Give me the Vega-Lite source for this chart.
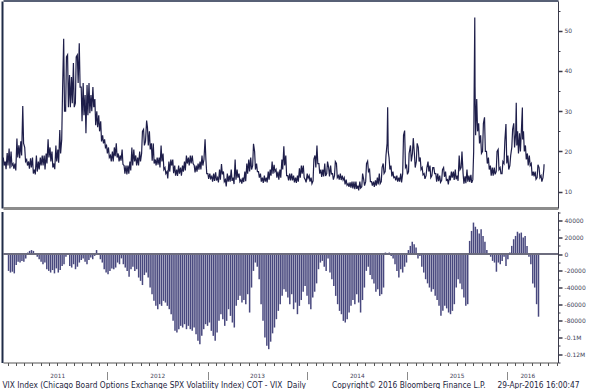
{
  "$schema": "https://vega.github.io/schema/vega-lite/v6.json",
  "background": "white",
  "padding": {"left": 0, "top": 0, "right": 0, "bottom": 0},
  "spacing": 3.5,
  "config": {
    "view": {"stroke": null},
    "font": "DejaVu Sans",
    "axis": {"grid": false, "labelColor": "#3f3f58", "tickColor": "#3a3a4a", "domainColor": "#3a3a4a"}
  },
  "datasets": {
    "vix": [
{"d":"2011-01-03","v":18.5},{"d":"2011-01-06","v":16.5},{"d":"2011-01-10","v":17.5},{"d":"2011-01-13","v":15.6},{"d":"2011-01-17","v":19.6},{"d":"2011-01-20","v":16.5},{"d":"2011-01-24","v":20.7},{"d":"2011-01-27","v":15.8},{"d":"2011-01-31","v":20.0},{"d":"2011-02-03","v":16.5},{"d":"2011-02-07","v":17.0},{"d":"2011-02-10","v":15.7},{"d":"2011-02-14","v":17.0},{"d":"2011-02-17","v":15.3},{"d":"2011-02-21","v":23.2},{"d":"2011-02-24","v":18.5},{"d":"2011-02-28","v":21.5},{"d":"2011-03-03","v":18.3},{"d":"2011-03-07","v":22.5},{"d":"2011-03-10","v":19.0},{"d":"2011-03-14","v":31.3},{"d":"2011-03-17","v":22.0},{"d":"2011-03-21","v":21.0},{"d":"2011-03-24","v":17.5},{"d":"2011-03-28","v":18.0},{"d":"2011-03-31","v":16.5},{"d":"2011-04-04","v":17.5},{"d":"2011-04-07","v":15.7},{"d":"2011-04-11","v":18.3},{"d":"2011-04-14","v":16.0},{"d":"2011-04-18","v":18.5},{"d":"2011-04-21","v":14.5},{"d":"2011-04-25","v":15.5},{"d":"2011-04-28","v":14.3},{"d":"2011-05-02","v":19.0},{"d":"2011-05-05","v":15.0},{"d":"2011-05-09","v":17.5},{"d":"2011-05-12","v":15.5},{"d":"2011-05-16","v":18.5},{"d":"2011-05-19","v":16.5},{"d":"2011-05-23","v":19.0},{"d":"2011-05-26","v":16.5},{"d":"2011-05-30","v":19.0},{"d":"2011-06-02","v":15.5},{"d":"2011-06-06","v":19.5},{"d":"2011-06-09","v":17.0},{"d":"2011-06-13","v":23.0},{"d":"2011-06-16","v":18.5},{"d":"2011-06-20","v":21.0},{"d":"2011-06-23","v":17.5},{"d":"2011-06-27","v":20.0},{"d":"2011-06-30","v":16.0},{"d":"2011-07-04","v":17.0},{"d":"2011-07-07","v":15.6},{"d":"2011-07-11","v":21.5},{"d":"2011-07-14","v":17.5},{"d":"2011-07-18","v":20.5},{"d":"2011-07-21","v":17.2},{"d":"2011-07-25","v":25.3},{"d":"2011-07-28","v":19.5},{"d":"2011-08-01","v":23.0},{"d":"2011-08-04","v":35.0},{"d":"2011-08-08","v":48.0},{"d":"2011-08-11","v":30.0},{"d":"2011-08-15","v":30.0},{"d":"2011-08-18","v":43.5},{"d":"2011-08-22","v":44.0},{"d":"2011-08-25","v":31.0},{"d":"2011-08-29","v":39.0},{"d":"2011-09-01","v":31.0},{"d":"2011-09-05","v":38.5},{"d":"2011-09-08","v":32.0},{"d":"2011-09-12","v":42.0},{"d":"2011-09-15","v":31.0},{"d":"2011-09-19","v":32.0},{"d":"2011-09-22","v":43.5},{"d":"2011-09-26","v":44.0},{"d":"2011-09-29","v":37.0},{"d":"2011-10-03","v":46.9},{"d":"2011-10-06","v":36.0},{"d":"2011-10-10","v":36.0},{"d":"2011-10-13","v":27.5},{"d":"2011-10-17","v":37.0},{"d":"2011-10-20","v":29.0},{"d":"2011-10-24","v":34.0},{"d":"2011-10-27","v":24.5},{"d":"2011-10-31","v":36.5},{"d":"2011-11-03","v":29.0},{"d":"2011-11-07","v":37.0},{"d":"2011-11-10","v":29.5},{"d":"2011-11-14","v":34.0},{"d":"2011-11-17","v":30.0},{"d":"2011-11-21","v":36.0},{"d":"2011-11-24","v":31.0},{"d":"2011-11-28","v":33.0},{"d":"2011-12-01","v":26.5},{"d":"2011-12-05","v":30.0},{"d":"2011-12-08","v":26.0},{"d":"2011-12-12","v":29.0},{"d":"2011-12-15","v":25.0},{"d":"2011-12-19","v":27.5},{"d":"2011-12-22","v":22.5},{"d":"2011-12-26","v":24.0},{"d":"2011-12-29","v":22.0},
{"d":"2012-01-02","v":23.0},{"d":"2012-01-05","v":21.0},{"d":"2012-01-09","v":21.5},{"d":"2012-01-12","v":19.5},{"d":"2012-01-16","v":21.0},{"d":"2012-01-19","v":18.5},{"d":"2012-01-23","v":19.0},{"d":"2012-01-26","v":17.5},{"d":"2012-01-30","v":20.0},{"d":"2012-02-02","v":17.5},{"d":"2012-02-06","v":21.0},{"d":"2012-02-09","v":18.8},{"d":"2012-02-13","v":22.0},{"d":"2012-02-16","v":18.5},{"d":"2012-02-20","v":19.5},{"d":"2012-02-23","v":17.5},{"d":"2012-02-27","v":19.0},{"d":"2012-03-01","v":17.7},{"d":"2012-03-05","v":20.5},{"d":"2012-03-08","v":16.8},{"d":"2012-03-12","v":16.5},{"d":"2012-03-15","v":14.5},{"d":"2012-03-19","v":16.5},{"d":"2012-03-22","v":14.3},{"d":"2012-03-26","v":16.5},{"d":"2012-03-29","v":14.5},{"d":"2012-04-02","v":17.5},{"d":"2012-04-05","v":15.3},{"d":"2012-04-09","v":21.0},{"d":"2012-04-12","v":16.5},{"d":"2012-04-16","v":20.5},{"d":"2012-04-19","v":17.5},{"d":"2012-04-23","v":19.0},{"d":"2012-04-26","v":16.5},{"d":"2012-04-30","v":18.5},{"d":"2012-05-03","v":16.5},{"d":"2012-05-07","v":20.0},{"d":"2012-05-10","v":17.5},{"d":"2012-05-14","v":19.5},{"d":"2012-05-17","v":25.0},{"d":"2012-05-21","v":25.5},{"d":"2012-05-24","v":21.5},{"d":"2012-05-28","v":22.5},{"d":"2012-06-01","v":27.7},{"d":"2012-06-04","v":26.0},{"d":"2012-06-07","v":21.5},{"d":"2012-06-11","v":25.0},{"d":"2012-06-14","v":20.5},{"d":"2012-06-18","v":22.0},{"d":"2012-06-21","v":17.7},{"d":"2012-06-25","v":22.0},{"d":"2012-06-28","v":17.0},{"d":"2012-07-02","v":18.0},{"d":"2012-07-05","v":16.5},{"d":"2012-07-09","v":18.5},{"d":"2012-07-12","v":16.7},{"d":"2012-07-16","v":18.5},{"d":"2012-07-19","v":16.0},{"d":"2012-07-23","v":21.5},{"d":"2012-07-26","v":17.5},{"d":"2012-07-30","v":19.5},{"d":"2012-08-02","v":15.5},{"d":"2012-08-06","v":16.0},{"d":"2012-08-09","v":14.5},{"d":"2012-08-13","v":15.0},{"d":"2012-08-16","v":13.3},{"d":"2012-08-20","v":17.5},{"d":"2012-08-23","v":15.0},{"d":"2012-08-27","v":18.0},{"d":"2012-08-30","v":16.5},{"d":"2012-09-03","v":18.0},{"d":"2012-09-06","v":14.6},{"d":"2012-09-10","v":16.5},{"d":"2012-09-13","v":14.0},{"d":"2012-09-17","v":15.5},{"d":"2012-09-20","v":13.9},{"d":"2012-09-24","v":16.5},{"d":"2012-09-27","v":14.5},{"d":"2012-10-01","v":16.0},{"d":"2012-10-04","v":14.0},{"d":"2012-10-08","v":16.5},{"d":"2012-10-11","v":15.0},{"d":"2012-10-15","v":17.5},{"d":"2012-10-18","v":15.3},{"d":"2012-10-22","v":19.0},{"d":"2012-10-25","v":17.0},{"d":"2012-10-29","v":18.5},{"d":"2012-11-01","v":16.5},{"d":"2012-11-05","v":19.0},{"d":"2012-11-08","v":17.0},{"d":"2012-11-12","v":19.0},{"d":"2012-11-15","v":17.0},{"d":"2012-11-19","v":16.5},{"d":"2012-11-22","v":14.8},{"d":"2012-11-26","v":16.5},{"d":"2012-11-29","v":15.0},{"d":"2012-12-03","v":17.0},{"d":"2012-12-06","v":15.5},{"d":"2012-12-10","v":17.5},{"d":"2012-12-13","v":15.5},{"d":"2012-12-17","v":19.0},{"d":"2012-12-20","v":16.5},{"d":"2012-12-24","v":18.0},{"d":"2012-12-28","v":23.0},{"d":"2012-12-31","v":18.0},
{"d":"2013-01-03","v":14.5},{"d":"2013-01-07","v":14.5},{"d":"2013-01-10","v":13.2},{"d":"2013-01-14","v":14.5},{"d":"2013-01-17","v":13.3},{"d":"2013-01-21","v":13.8},{"d":"2013-01-24","v":12.5},{"d":"2013-01-28","v":14.5},{"d":"2013-01-31","v":12.7},{"d":"2013-02-04","v":14.8},{"d":"2013-02-07","v":12.8},{"d":"2013-02-11","v":13.5},{"d":"2013-02-14","v":12.3},{"d":"2013-02-18","v":15.5},{"d":"2013-02-21","v":13.0},{"d":"2013-02-25","v":16.9},{"d":"2013-02-28","v":14.3},{"d":"2013-03-04","v":15.0},{"d":"2013-03-07","v":12.5},{"d":"2013-03-11","v":13.0},{"d":"2013-03-14","v":11.3},{"d":"2013-03-18","v":14.5},{"d":"2013-03-21","v":12.5},{"d":"2013-03-25","v":14.0},{"d":"2013-03-28","v":12.5},{"d":"2013-04-01","v":15.5},{"d":"2013-04-04","v":12.7},{"d":"2013-04-08","v":13.5},{"d":"2013-04-11","v":11.9},{"d":"2013-04-15","v":18.0},{"d":"2013-04-18","v":13.0},{"d":"2013-04-22","v":15.5},{"d":"2013-04-25","v":13.5},{"d":"2013-04-29","v":14.5},{"d":"2013-05-02","v":12.5},{"d":"2013-05-06","v":13.0},{"d":"2013-05-09","v":12.0},{"d":"2013-05-13","v":13.5},{"d":"2013-05-16","v":12.4},{"d":"2013-05-20","v":15.0},{"d":"2013-05-23","v":12.6},{"d":"2013-05-27","v":17.0},{"d":"2013-05-30","v":14.5},{"d":"2013-06-03","v":18.0},{"d":"2013-06-06","v":15.0},{"d":"2013-06-10","v":18.5},{"d":"2013-06-13","v":15.5},{"d":"2013-06-17","v":16.5},{"d":"2013-06-20","v":21.9},{"d":"2013-06-24","v":20.0},{"d":"2013-06-27","v":15.5},{"d":"2013-07-01","v":17.0},{"d":"2013-07-04","v":15.0},{"d":"2013-07-08","v":15.0},{"d":"2013-07-11","v":13.5},{"d":"2013-07-15","v":14.5},{"d":"2013-07-18","v":12.5},{"d":"2013-07-22","v":13.5},{"d":"2013-07-25","v":12.2},{"d":"2013-07-29","v":14.0},{"d":"2013-08-01","v":12.5},{"d":"2013-08-05","v":13.5},{"d":"2013-08-08","v":12.3},{"d":"2013-08-12","v":15.0},{"d":"2013-08-15","v":13.0},{"d":"2013-08-19","v":15.5},{"d":"2013-08-22","v":14.0},{"d":"2013-08-26","v":17.5},{"d":"2013-08-29","v":14.5},{"d":"2013-09-02","v":16.7},{"d":"2013-09-05","v":15.0},{"d":"2013-09-09","v":15.5},{"d":"2013-09-12","v":13.5},{"d":"2013-09-16","v":15.0},{"d":"2013-09-19","v":13.0},{"d":"2013-09-23","v":15.5},{"d":"2013-09-26","v":13.5},{"d":"2013-09-30","v":18.0},{"d":"2013-10-03","v":15.5},{"d":"2013-10-07","v":21.3},{"d":"2013-10-10","v":16.5},{"d":"2013-10-14","v":19.0},{"d":"2013-10-17","v":14.0},{"d":"2013-10-21","v":14.0},{"d":"2013-10-24","v":12.8},{"d":"2013-10-28","v":14.5},{"d":"2013-10-31","v":12.8},{"d":"2013-11-04","v":14.5},{"d":"2013-11-07","v":12.8},{"d":"2013-11-11","v":14.0},{"d":"2013-11-14","v":12.3},{"d":"2013-11-18","v":13.5},{"d":"2013-11-21","v":12.2},{"d":"2013-11-25","v":14.0},{"d":"2013-11-28","v":12.5},{"d":"2013-12-02","v":15.8},{"d":"2013-12-05","v":13.5},{"d":"2013-12-09","v":16.5},{"d":"2013-12-12","v":14.5},{"d":"2013-12-16","v":16.5},{"d":"2013-12-19","v":13.5},{"d":"2013-12-23","v":13.0},{"d":"2013-12-26","v":12.3},{"d":"2013-12-30","v":14.5},
{"d":"2014-01-02","v":13.3},{"d":"2014-01-06","v":14.0},{"d":"2014-01-09","v":12.5},{"d":"2014-01-13","v":13.5},{"d":"2014-01-16","v":12.0},{"d":"2014-01-20","v":12.7},{"d":"2014-01-23","v":18.1},{"d":"2014-01-27","v":19.0},{"d":"2014-01-30","v":16.0},{"d":"2014-02-03","v":21.5},{"d":"2014-02-06","v":17.0},{"d":"2014-02-10","v":17.0},{"d":"2014-02-13","v":14.5},{"d":"2014-02-17","v":15.5},{"d":"2014-02-20","v":13.7},{"d":"2014-02-24","v":15.5},{"d":"2014-02-27","v":13.8},{"d":"2014-03-03","v":17.0},{"d":"2014-03-06","v":13.9},{"d":"2014-03-10","v":14.5},{"d":"2014-03-13","v":17.5},{"d":"2014-03-17","v":16.0},{"d":"2014-03-20","v":13.8},{"d":"2014-03-24","v":16.5},{"d":"2014-03-27","v":14.4},{"d":"2014-03-31","v":14.5},{"d":"2014-04-03","v":13.0},{"d":"2014-04-07","v":14.0},{"d":"2014-04-10","v":17.5},{"d":"2014-04-14","v":17.0},{"d":"2014-04-17","v":13.5},{"d":"2014-04-21","v":14.0},{"d":"2014-04-24","v":13.0},{"d":"2014-04-28","v":14.5},{"d":"2014-05-01","v":12.9},{"d":"2014-05-05","v":14.0},{"d":"2014-05-08","v":12.9},{"d":"2014-05-12","v":13.5},{"d":"2014-05-15","v":11.8},{"d":"2014-05-19","v":13.0},{"d":"2014-05-22","v":11.6},{"d":"2014-05-26","v":12.0},{"d":"2014-05-29","v":11.2},{"d":"2014-06-02","v":12.3},{"d":"2014-06-05","v":11.0},{"d":"2014-06-09","v":12.5},{"d":"2014-06-12","v":10.8},{"d":"2014-06-16","v":12.5},{"d":"2014-06-19","v":10.6},{"d":"2014-06-23","v":12.5},{"d":"2014-06-26","v":10.7},{"d":"2014-06-30","v":11.5},{"d":"2014-07-03","v":10.3},{"d":"2014-07-07","v":12.5},{"d":"2014-07-10","v":10.9},{"d":"2014-07-14","v":11.2},{"d":"2014-07-17","v":14.5},{"d":"2014-07-21","v":13.0},{"d":"2014-07-24","v":11.5},{"d":"2014-07-28","v":12.5},{"d":"2014-07-31","v":17.0},{"d":"2014-08-04","v":17.6},{"d":"2014-08-07","v":15.0},{"d":"2014-08-11","v":15.5},{"d":"2014-08-14","v":12.5},{"d":"2014-08-18","v":12.5},{"d":"2014-08-21","v":11.5},{"d":"2014-08-25","v":12.5},{"d":"2014-08-28","v":11.2},{"d":"2014-09-01","v":12.8},{"d":"2014-09-04","v":11.5},{"d":"2014-09-08","v":13.5},{"d":"2014-09-11","v":11.8},{"d":"2014-09-15","v":14.5},{"d":"2014-09-18","v":12.0},{"d":"2014-09-22","v":12.5},{"d":"2014-09-25","v":16.0},{"d":"2014-09-29","v":17.0},{"d":"2014-10-02","v":14.5},{"d":"2014-10-06","v":15.0},{"d":"2014-10-09","v":19.0},{"d":"2014-10-13","v":22.0},{"d":"2014-10-15","v":31.0},{"d":"2014-10-17","v":20.0},{"d":"2014-10-20","v":18.5},{"d":"2014-10-23","v":15.5},{"d":"2014-10-27","v":16.5},{"d":"2014-10-30","v":13.8},{"d":"2014-11-03","v":15.0},{"d":"2014-11-06","v":13.5},{"d":"2014-11-10","v":13.7},{"d":"2014-11-13","v":12.8},{"d":"2014-11-17","v":14.0},{"d":"2014-11-20","v":12.5},{"d":"2014-11-24","v":13.5},{"d":"2014-11-27","v":12.5},{"d":"2014-12-01","v":14.5},{"d":"2014-12-04","v":12.3},{"d":"2014-12-08","v":14.5},{"d":"2014-12-11","v":24.0},{"d":"2014-12-15","v":25.2},{"d":"2014-12-18","v":16.0},{"d":"2014-12-22","v":16.5},{"d":"2014-12-25","v":14.3},{"d":"2014-12-29","v":15.0},{"d":"2014-12-31","v":19.5},
{"d":"2015-01-05","v":21.5},{"d":"2015-01-08","v":17.5},{"d":"2015-01-12","v":19.5},{"d":"2015-01-15","v":23.3},{"d":"2015-01-19","v":19.5},{"d":"2015-01-22","v":16.0},{"d":"2015-01-26","v":17.5},{"d":"2015-01-29","v":22.0},{"d":"2015-02-02","v":21.0},{"d":"2015-02-05","v":17.5},{"d":"2015-02-09","v":18.5},{"d":"2015-02-12","v":15.5},{"d":"2015-02-16","v":16.0},{"d":"2015-02-19","v":14.2},{"d":"2015-02-23","v":14.5},{"d":"2015-02-26","v":13.2},{"d":"2015-03-02","v":14.0},{"d":"2015-03-05","v":16.0},{"d":"2015-03-09","v":17.5},{"d":"2015-03-12","v":15.0},{"d":"2015-03-16","v":16.5},{"d":"2015-03-19","v":13.5},{"d":"2015-03-23","v":14.0},{"d":"2015-03-26","v":16.0},{"d":"2015-03-30","v":16.0},{"d":"2015-04-02","v":14.5},{"d":"2015-04-06","v":14.5},{"d":"2015-04-09","v":12.5},{"d":"2015-04-13","v":14.5},{"d":"2015-04-16","v":12.6},{"d":"2015-04-20","v":14.0},{"d":"2015-04-23","v":12.3},{"d":"2015-04-27","v":12.8},{"d":"2015-04-30","v":15.5},{"d":"2015-05-04","v":16.0},{"d":"2015-05-07","v":13.7},{"d":"2015-05-11","v":15.0},{"d":"2015-05-14","v":12.8},{"d":"2015-05-18","v":13.0},{"d":"2015-05-21","v":11.8},{"d":"2015-05-25","v":14.0},{"d":"2015-05-28","v":12.8},{"d":"2015-06-01","v":15.0},{"d":"2015-06-04","v":13.5},{"d":"2015-06-08","v":15.0},{"d":"2015-06-11","v":12.9},{"d":"2015-06-15","v":15.5},{"d":"2015-06-18","v":13.1},{"d":"2015-06-22","v":14.0},{"d":"2015-06-25","v":12.7},{"d":"2015-06-29","v":19.0},{"d":"2015-07-02","v":15.5},{"d":"2015-07-06","v":16.0},{"d":"2015-07-09","v":20.0},{"d":"2015-07-13","v":14.5},{"d":"2015-07-16","v":12.0},{"d":"2015-07-20","v":13.8},{"d":"2015-07-23","v":12.1},{"d":"2015-07-27","v":15.5},{"d":"2015-07-30","v":12.5},{"d":"2015-08-03","v":14.0},{"d":"2015-08-06","v":12.4},{"d":"2015-08-10","v":14.2},{"d":"2015-08-13","v":12.2},{"d":"2015-08-17","v":13.0},{"d":"2015-08-20","v":19.9},{"d":"2015-08-21","v":28.4},{"d":"2015-08-24","v":53.3},{"d":"2015-08-25","v":36.0},{"d":"2015-08-27","v":24.0},{"d":"2015-08-31","v":33.0},{"d":"2015-09-03","v":25.0},{"d":"2015-09-07","v":27.0},{"d":"2015-09-10","v":22.0},{"d":"2015-09-14","v":24.0},{"d":"2015-09-17","v":19.5},{"d":"2015-09-21","v":20.0},{"d":"2015-09-24","v":27.0},{"d":"2015-09-28","v":28.5},{"d":"2015-10-01","v":20.0},{"d":"2015-10-05","v":20.0},{"d":"2015-10-08","v":17.0},{"d":"2015-10-12","v":18.5},{"d":"2015-10-15","v":15.5},{"d":"2015-10-19","v":16.5},{"d":"2015-10-22","v":14.0},{"d":"2015-10-26","v":16.0},{"d":"2015-10-29","v":14.0},{"d":"2015-11-02","v":16.0},{"d":"2015-11-05","v":14.3},{"d":"2015-11-09","v":15.0},{"d":"2015-11-12","v":20.0},{"d":"2015-11-16","v":20.5},{"d":"2015-11-19","v":15.5},{"d":"2015-11-23","v":16.0},{"d":"2015-11-26","v":14.5},{"d":"2015-11-30","v":14.5},{"d":"2015-12-03","v":17.5},{"d":"2015-12-07","v":17.0},{"d":"2015-12-10","v":22.5},{"d":"2015-12-14","v":26.8},{"d":"2015-12-17","v":17.0},{"d":"2015-12-21","v":19.0},{"d":"2015-12-24","v":15.5},{"d":"2015-12-28","v":16.5},{"d":"2015-12-31","v":19.0},
{"d":"2016-01-04","v":21.0},{"d":"2016-01-07","v":25.5},{"d":"2016-01-11","v":27.0},{"d":"2016-01-14","v":21.0},{"d":"2016-01-18","v":24.5},{"d":"2016-01-20","v":32.1},{"d":"2016-01-22","v":21.5},{"d":"2016-01-25","v":25.0},{"d":"2016-01-28","v":19.5},{"d":"2016-02-01","v":24.5},{"d":"2016-02-04","v":20.0},{"d":"2016-02-08","v":26.0},{"d":"2016-02-11","v":30.9},{"d":"2016-02-12","v":23.0},{"d":"2016-02-15","v":25.0},{"d":"2016-02-18","v":20.0},{"d":"2016-02-22","v":21.5},{"d":"2016-02-25","v":18.0},{"d":"2016-02-29","v":19.5},{"d":"2016-03-03","v":16.5},{"d":"2016-03-07","v":19.0},{"d":"2016-03-10","v":16.5},{"d":"2016-03-14","v":17.0},{"d":"2016-03-17","v":14.0},{"d":"2016-03-21","v":15.0},{"d":"2016-03-24","v":13.8},{"d":"2016-03-28","v":15.0},{"d":"2016-03-31","v":13.1},{"d":"2016-04-04","v":13.5},{"d":"2016-04-07","v":16.7},{"d":"2016-04-11","v":16.0},{"d":"2016-04-14","v":13.5},{"d":"2016-04-18","v":14.0},{"d":"2016-04-21","v":12.5},{"d":"2016-04-25","v":13.5},{"d":"2016-04-28","v":15.5},{"d":"2016-04-29","v":16.8}
    ],
    "cot": [
{"d":"2011-01-04","v":-20000},{"d":"2011-01-11","v":-22000},{"d":"2011-01-18","v":-21000},{"d":"2011-01-25","v":-23000},{"d":"2011-02-01","v":-13000},{"d":"2011-02-08","v":-9000},{"d":"2011-02-15","v":-10000},{"d":"2011-02-22","v":-8000},{"d":"2011-03-01","v":-9000},{"d":"2011-03-08","v":-5000},{"d":"2011-03-15","v":2000},{"d":"2011-03-22","v":4000},{"d":"2011-03-29","v":5000},{"d":"2011-04-05","v":4000},{"d":"2011-04-12","v":1000},{"d":"2011-04-19","v":-3000},{"d":"2011-04-26","v":-6000},{"d":"2011-05-03","v":-9000},{"d":"2011-05-10","v":-12000},{"d":"2011-05-17","v":-10000},{"d":"2011-05-24","v":-18000},{"d":"2011-05-31","v":-20000},{"d":"2011-06-07","v":-22000},{"d":"2011-06-14","v":-19000},{"d":"2011-06-21","v":-23000},{"d":"2011-06-28","v":-17000},{"d":"2011-07-05","v":-22000},{"d":"2011-07-12","v":-19000},{"d":"2011-07-19","v":-14000},{"d":"2011-07-26","v":-12000},{"d":"2011-08-02","v":-3000},{"d":"2011-08-09","v":-1000},{"d":"2011-08-16","v":-14000},{"d":"2011-08-23","v":-16000},{"d":"2011-08-30","v":-12000},{"d":"2011-09-06","v":-18000},{"d":"2011-09-13","v":-15000},{"d":"2011-09-20","v":-10000},{"d":"2011-09-27","v":-7000},{"d":"2011-10-04","v":-5000},{"d":"2011-10-11","v":-9000},{"d":"2011-10-18","v":-12000},{"d":"2011-10-25","v":-7000},{"d":"2011-11-01","v":-4000},{"d":"2011-11-08","v":-6000},{"d":"2011-11-15","v":-2000},{"d":"2011-11-22","v":5000},{"d":"2011-11-29","v":1000},{"d":"2011-12-06","v":-6000},{"d":"2011-12-13","v":-10000},{"d":"2011-12-20","v":-18000},{"d":"2011-12-27","v":-22000},
{"d":"2012-01-03","v":-24000},{"d":"2012-01-10","v":-20000},{"d":"2012-01-17","v":-17000},{"d":"2012-01-24","v":-18000},{"d":"2012-01-31","v":-16000},{"d":"2012-02-07","v":-10000},{"d":"2012-02-14","v":-12000},{"d":"2012-02-21","v":-5000},{"d":"2012-02-28","v":-12000},{"d":"2012-03-06","v":-16000},{"d":"2012-03-13","v":-20000},{"d":"2012-03-20","v":-27000},{"d":"2012-03-27","v":-18000},{"d":"2012-04-03","v":-15000},{"d":"2012-04-10","v":-20000},{"d":"2012-04-17","v":-18000},{"d":"2012-04-24","v":-28000},{"d":"2012-05-01","v":-32000},{"d":"2012-05-08","v":-37000},{"d":"2012-05-15","v":-25000},{"d":"2012-05-22","v":-22000},{"d":"2012-05-29","v":-28000},{"d":"2012-06-05","v":-40000},{"d":"2012-06-12","v":-48000},{"d":"2012-06-19","v":-56000},{"d":"2012-06-26","v":-62000},{"d":"2012-07-03","v":-66000},{"d":"2012-07-10","v":-60000},{"d":"2012-07-17","v":-62000},{"d":"2012-07-24","v":-56000},{"d":"2012-07-31","v":-58000},{"d":"2012-08-07","v":-62000},{"d":"2012-08-14","v":-66000},{"d":"2012-08-21","v":-72000},{"d":"2012-08-28","v":-80000},{"d":"2012-09-04","v":-92000},{"d":"2012-09-11","v":-94000},{"d":"2012-09-18","v":-90000},{"d":"2012-09-25","v":-86000},{"d":"2012-10-02","v":-88000},{"d":"2012-10-09","v":-84000},{"d":"2012-10-16","v":-90000},{"d":"2012-10-23","v":-86000},{"d":"2012-10-30","v":-90000},{"d":"2012-11-06","v":-92000},{"d":"2012-11-13","v":-88000},{"d":"2012-11-20","v":-96000},{"d":"2012-11-27","v":-104000},{"d":"2012-12-04","v":-108000},{"d":"2012-12-11","v":-98000},{"d":"2012-12-18","v":-90000},{"d":"2012-12-25","v":-84000},
{"d":"2013-01-01","v":-86000},{"d":"2013-01-08","v":-82000},{"d":"2013-01-15","v":-92000},{"d":"2013-01-22","v":-98000},{"d":"2013-01-29","v":-104000},{"d":"2013-02-05","v":-94000},{"d":"2013-02-12","v":-80000},{"d":"2013-02-19","v":-72000},{"d":"2013-02-26","v":-78000},{"d":"2013-03-05","v":-86000},{"d":"2013-03-12","v":-80000},{"d":"2013-03-19","v":-66000},{"d":"2013-03-26","v":-74000},{"d":"2013-04-02","v":-82000},{"d":"2013-04-09","v":-88000},{"d":"2013-04-16","v":-62000},{"d":"2013-04-23","v":-55000},{"d":"2013-04-30","v":-50000},{"d":"2013-05-07","v":-58000},{"d":"2013-05-14","v":-55000},{"d":"2013-05-21","v":-60000},{"d":"2013-05-28","v":-48000},{"d":"2013-06-04","v":-70000},{"d":"2013-06-11","v":-40000},{"d":"2013-06-18","v":-20000},{"d":"2013-06-25","v":-10000},{"d":"2013-07-02","v":-15000},{"d":"2013-07-09","v":-30000},{"d":"2013-07-16","v":-60000},{"d":"2013-07-23","v":-80000},{"d":"2013-07-30","v":-100000},{"d":"2013-08-06","v":-110000},{"d":"2013-08-13","v":-114000},{"d":"2013-08-20","v":-105000},{"d":"2013-08-27","v":-95000},{"d":"2013-09-03","v":-88000},{"d":"2013-09-10","v":-78000},{"d":"2013-09-17","v":-68000},{"d":"2013-09-24","v":-60000},{"d":"2013-10-01","v":-50000},{"d":"2013-10-08","v":-42000},{"d":"2013-10-15","v":-45000},{"d":"2013-10-22","v":-52000},{"d":"2013-10-29","v":-60000},{"d":"2013-11-05","v":-48000},{"d":"2013-11-12","v":-66000},{"d":"2013-11-19","v":-58000},{"d":"2013-11-26","v":-72000},{"d":"2013-12-03","v":-62000},{"d":"2013-12-10","v":-55000},{"d":"2013-12-17","v":-45000},{"d":"2013-12-24","v":-38000},{"d":"2013-12-31","v":-50000},
{"d":"2014-01-07","v":-60000},{"d":"2014-01-14","v":-66000},{"d":"2014-01-21","v":-52000},{"d":"2014-01-28","v":-45000},{"d":"2014-02-04","v":-35000},{"d":"2014-02-11","v":-18000},{"d":"2014-02-18","v":-10000},{"d":"2014-02-25","v":-8000},{"d":"2014-03-04","v":-15000},{"d":"2014-03-11","v":-20000},{"d":"2014-03-18","v":-5000},{"d":"2014-03-25","v":-22000},{"d":"2014-04-01","v":-30000},{"d":"2014-04-08","v":-38000},{"d":"2014-04-15","v":-50000},{"d":"2014-04-22","v":-60000},{"d":"2014-04-29","v":-68000},{"d":"2014-05-06","v":-72000},{"d":"2014-05-13","v":-80000},{"d":"2014-05-20","v":-82000},{"d":"2014-05-27","v":-78000},{"d":"2014-06-03","v":-70000},{"d":"2014-06-10","v":-62000},{"d":"2014-06-17","v":-55000},{"d":"2014-06-24","v":-60000},{"d":"2014-07-01","v":-48000},{"d":"2014-07-08","v":-58000},{"d":"2014-07-15","v":-70000},{"d":"2014-07-22","v":-55000},{"d":"2014-07-29","v":-40000},{"d":"2014-08-05","v":-20000},{"d":"2014-08-12","v":-15000},{"d":"2014-08-19","v":-25000},{"d":"2014-08-26","v":-30000},{"d":"2014-09-02","v":-35000},{"d":"2014-09-09","v":-45000},{"d":"2014-09-16","v":-42000},{"d":"2014-09-23","v":-50000},{"d":"2014-09-30","v":-48000},{"d":"2014-10-07","v":-40000},{"d":"2014-10-14","v":2000},{"d":"2014-10-21","v":1500},{"d":"2014-10-28","v":2000},{"d":"2014-11-04","v":-2000},{"d":"2014-11-11","v":-5000},{"d":"2014-11-18","v":-12000},{"d":"2014-11-25","v":-20000},{"d":"2014-12-02","v":-28000},{"d":"2014-12-09","v":-18000},{"d":"2014-12-16","v":-22000},{"d":"2014-12-23","v":-15000},{"d":"2014-12-30","v":-10000},
{"d":"2015-01-06","v":5000},{"d":"2015-01-13","v":10000},{"d":"2015-01-20","v":15000},{"d":"2015-01-27","v":12000},{"d":"2015-02-03","v":8000},{"d":"2015-02-10","v":-5000},{"d":"2015-02-17","v":-2000},{"d":"2015-02-24","v":-15000},{"d":"2015-03-03","v":-22000},{"d":"2015-03-10","v":-30000},{"d":"2015-03-17","v":-35000},{"d":"2015-03-24","v":-40000},{"d":"2015-03-31","v":-45000},{"d":"2015-04-07","v":-42000},{"d":"2015-04-14","v":-50000},{"d":"2015-04-21","v":-55000},{"d":"2015-04-28","v":-62000},{"d":"2015-05-05","v":-74000},{"d":"2015-05-12","v":-68000},{"d":"2015-05-19","v":-62000},{"d":"2015-05-26","v":-65000},{"d":"2015-06-02","v":-70000},{"d":"2015-06-09","v":-72000},{"d":"2015-06-16","v":-68000},{"d":"2015-06-23","v":-60000},{"d":"2015-06-30","v":-40000},{"d":"2015-07-07","v":-30000},{"d":"2015-07-14","v":-35000},{"d":"2015-07-21","v":-42000},{"d":"2015-07-28","v":-52000},{"d":"2015-08-04","v":-62000},{"d":"2015-08-11","v":-60000},{"d":"2015-08-18","v":16000},{"d":"2015-08-25","v":28000},{"d":"2015-09-01","v":38000},{"d":"2015-09-08","v":33000},{"d":"2015-09-15","v":30000},{"d":"2015-09-22","v":25000},{"d":"2015-09-29","v":30000},{"d":"2015-10-06","v":22000},{"d":"2015-10-13","v":15000},{"d":"2015-10-20","v":5000},{"d":"2015-10-27","v":-1000},{"d":"2015-11-03","v":-3000},{"d":"2015-11-10","v":-8000},{"d":"2015-11-17","v":-10000},{"d":"2015-11-24","v":-21000},{"d":"2015-12-01","v":-10000},{"d":"2015-12-08","v":-12000},{"d":"2015-12-15","v":-8000},{"d":"2015-12-22","v":-3000},{"d":"2015-12-29","v":-14000},
{"d":"2016-01-05","v":-6000},{"d":"2016-01-12","v":2000},{"d":"2016-01-19","v":10000},{"d":"2016-01-26","v":18000},{"d":"2016-02-02","v":22000},{"d":"2016-02-09","v":27000},{"d":"2016-02-16","v":25000},{"d":"2016-02-23","v":26000},{"d":"2016-03-01","v":20000},{"d":"2016-03-08","v":22000},{"d":"2016-03-15","v":10000},{"d":"2016-03-22","v":-3000},{"d":"2016-03-29","v":-12000},{"d":"2016-04-05","v":-35000},{"d":"2016-04-12","v":-40000},{"d":"2016-04-19","v":-60000},{"d":"2016-04-26","v":-75000}
    ]
  },
  "vconcat": [
    {
      "width": 555,
      "height": 207,
      "data": {"name": "vix"},
      "layer": [
        {
          "mark": {"type": "line", "color": "#1e1e4a", "strokeWidth": 1.2},
          "encoding": {
            "x": {"field": "d", "type": "temporal",
                  "scale": {"domain": [{"year": 2011, "month": 1, "date": 2}, {"year": 2016, "month": 6, "date": 18}]},
                  "axis": {"orient": "bottom", "title": null, "labels": false, "ticks": false, "domainColor": "#8c8c8c", "domainWidth": 3}},
            "y": {"field": "v", "type": "quantitative",
                  "scale": {"domain": [5.95, 57.38], "nice": false, "zero": false},
                  "axis": {"orient": "right", "title": null, "values": [10, 20, 30, 40, 50], "tickSize": 4, "tickWidth": 1.5, "labelFontSize": 6, "labelPadding": 2}}
          }
        },
        {
          "mark": {"type": "point", "opacity": 0, "size": 0},
          "encoding": {
            "x": {"field": "d", "type": "temporal",
                  "scale": {"domain": [{"year": 2011, "month": 1, "date": 2}, {"year": 2016, "month": 6, "date": 18}]},
                  "axis": {"orient": "top", "title": null, "labels": false, "ticks": false, "domainColor": "#1f2b47", "domainWidth": 1.5, "offset": 0.5}},
            "y": {"field": "v", "type": "quantitative",
                  "scale": {"domain": [5.95, 57.38], "nice": false, "zero": false},
                  "axis": {"orient": "right", "title": null, "values": [15, 25, 35, 45, 55], "tickSize": 2, "labels": false, "domain": false}}
          }
        },
        {
          "mark": {"type": "point", "opacity": 0, "size": 0},
          "encoding": {
            "x": {"field": "d", "type": "temporal", "axis": null,
                  "scale": {"domain": [{"year": 2011, "month": 1, "date": 2}, {"year": 2016, "month": 6, "date": 18}]}},
            "y": {"field": "v", "type": "quantitative",
                  "scale": {"domain": [5.95, 57.38], "nice": false, "zero": false},
                  "axis": {"orient": "left", "title": null, "labels": false, "ticks": false, "domainColor": "#1f2b47", "domainWidth": 2, "offset": 1}}
          }
        }
      ],
      "resolve": {"axis": {"x": "independent", "y": "independent"}}
    },
    {
      "width": 555,
      "height": 151,
      "data": {"name": "cot"},
      "layer": [
        {
          "mark": {"type": "bar", "size": 1.5, "color": "#48487e"},
          "encoding": {
            "x": {"field": "d", "type": "temporal",
                  "scale": {"domain": [{"year": 2011, "month": 1, "date": 2}, {"year": 2016, "month": 6, "date": 18}]},
                  "axis": {
                    "orient": "bottom",
                    "title": "VIX Index (Chicago Board Options Exchange SPX Volatility Index) COT - VIX\u00a0\u00a0Daily\u00a0\u00a0\u00a0\u00a0\u00a0\u00a0\u00a0\u00a0\u00a0\u00a0\u00a0Copyright© 2016 Bloomberg Finance L.P.\u00a0\u00a0\u00a0\u00a0\u00a029-Apr-2016 16:00:47",
                    "titleAnchor": "start", "titleAlign": "left", "titleX": -1, "titleFontSize": 8.3, "titleFontWeight": "normal",
                    "titleFont": "DejaVu Sans Condensed, DejaVu Sans", "titleColor": "#1e1e40", "titlePadding": 14.5, "titleLimit": 2000,
                    "tickCount": {"interval": "month", "step": 1}, "tickSize": 3, "tickColor": "#555", "labels": false,
                    "domainColor": "#555"
                  }},
            "y": {"field": "v", "type": "quantitative",
                  "scale": {"domain": [-130000, 51300], "nice": false, "zero": false},
                  "axis": {"orient": "right", "title": null, "values": [40000, 20000, 0, -20000, -40000, -60000, -80000, -100000, -120000],
                           "labelExpr": "datum.value == -100000 ? '-0.1M' : (datum.value == -120000 ? '-0.12M' : (datum.value < 0 ? '-' + abs(datum.value) : '' + datum.value))",
                           "tickSize": 4, "tickWidth": 1.5, "labelFontSize": 6, "labelPadding": 2}}
          }
        },
        {
          "mark": {"type": "rule", "color": "#6e6e7e", "strokeWidth": 1},
          "encoding": {"y": {"datum": 0, "type": "quantitative", "axis": null}}
        },
        {
          "mark": {"type": "point", "opacity": 0, "size": 0},
          "encoding": {
            "x": {"field": "d", "type": "temporal",
                  "scale": {"domain": [{"year": 2011, "month": 1, "date": 2}, {"year": 2016, "month": 6, "date": 18}]},
                  "axis": {"orient": "bottom", "title": null, "domain": false, "tickSize": 0, "labelPadding": 10, "labelFontSize": 5.8,
                           "values": [{"year": 2011, "month": 7, "date": 1}, {"year": 2012, "month": 7, "date": 1}, {"year": 2013, "month": 7, "date": 1}, {"year": 2014, "month": 7, "date": 1}, {"year": 2015, "month": 7, "date": 1}, {"year": 2016, "month": 3, "date": 16}],
                           "labelExpr": "timeFormat(datum.value, '%Y')", "labelOverlap": false, "labelFlush": false, "labelBound": false, "labelAngle": 0}},
            "y": {"field": "v", "type": "quantitative",
                  "scale": {"domain": [-130000, 51300], "nice": false, "zero": false},
                  "axis": {"orient": "right", "title": null, "values": [50000, 30000, 10000, -10000, -30000, -50000, -70000, -90000, -110000, -130000], "tickSize": 2, "labels": false, "domain": false}}
          }
        },
        {
          "mark": {"type": "point", "opacity": 0, "size": 0},
          "encoding": {
            "x": {"field": "d", "type": "temporal",
                  "scale": {"domain": [{"year": 2011, "month": 1, "date": 2}, {"year": 2016, "month": 6, "date": 18}]},
                  "axis": {"orient": "bottom", "title": null, "domain": false, "labels": false, "offset": 9, "tickSize": 8, "tickWidth": 1, "tickColor": "#8a8a8a",
                           "values": [{"year": 2012, "month": 1, "date": 1}, {"year": 2013, "month": 1, "date": 1}, {"year": 2014, "month": 1, "date": 1}, {"year": 2015, "month": 1, "date": 1}, {"year": 2016, "month": 1, "date": 1}]}},
            "y": {"field": "v", "type": "quantitative",
                  "scale": {"domain": [-130000, 51300], "nice": false, "zero": false},
                  "axis": {"orient": "left", "title": null, "labels": false, "ticks": false, "domainColor": "#1f2b47", "domainWidth": 2, "offset": 1}}
          }
        }
      ],
      "resolve": {"axis": {"x": "independent", "y": "independent"}}
    }
  ]
}
